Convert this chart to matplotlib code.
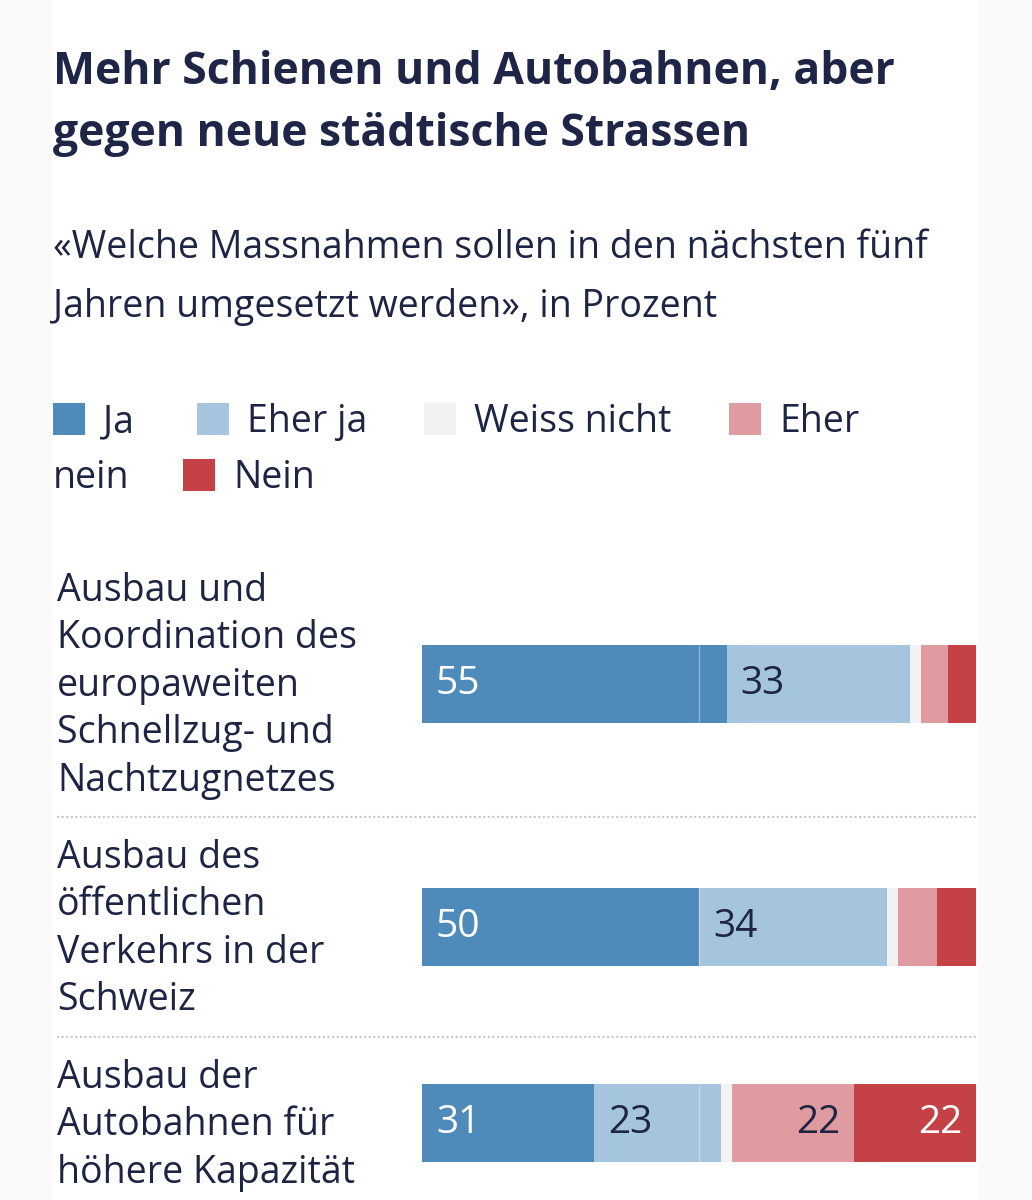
import matplotlib
matplotlib.use('Agg')
import matplotlib.pyplot as plt
from matplotlib.patches import Rectangle

# ---------------- data ----------------
categories = [
    "Ausbau und\nKoordination des\neuropaweiten\nSchnellzug- und\nNachtzugnetzes",
    "Ausbau des\nöffentlichen\nVerkehrs in der\nSchweiz",
    "Ausbau der\nAutobahnen für\nhöhere Kapazität",
]
series = ["Ja", "Eher ja", "Weiss nicht", "Eher nein", "Nein"]
ja = [55, 50, 31]
eher_ja = [33, 34, 23]
weiss_nicht = [2, 2, 2]
eher_nein = [5, 7, 22]
nein = [5, 7, 22]

title_lines = ["Mehr Schienen und Autobahnen, aber", "gegen neue städtische Strassen"]
subtitle_lines = ["«Welche Massnahmen sollen in den nächsten fünf",
                  "Jahren umgesetzt werden», in Prozent"]

# ---------------- style ----------------
colors = ['#4f8bba', '#a5c4dd', '#f2f2f2', '#e09ba0', '#c44146']
label_colors = ['white', '#1d2444', '#1d2444', '#1d2444', 'white']
text_col = '#1d2444'
body_font = 'Open Sans'
body_size = 27
W, H = 1032, 1200

fig = plt.figure(figsize=(W / 100, H / 100), dpi=100, facecolor='#fafafa')
bg = fig.add_axes([0, 0, 1, 1])
bg.set_xlim(0, W)
bg.set_ylim(H, 0)
bg.axis('off')
bg.add_patch(Rectangle((52, 0), 926, H, facecolor='white', edgecolor='none', zorder=0))

# title
for i, line in enumerate(title_lines):
    bg.text(53, 84 + i * 62, line, fontsize=32, fontweight='bold', family=body_font,
            color='#1f2547', va='baseline', ha='left')
# subtitle
for i, line in enumerate(subtitle_lines):
    bg.text(53, 258 + i * 59, line, fontsize=body_size, family=body_font,
            color=text_col, va='baseline', ha='left')

# legend (inline, wrapping like the original)
legend_items = [
    (53, 432, 'Ja', 0),
    (197, 432, 'Eher ja', 1),
    (424, 432, 'Weiss nicht', 2),
    (729, 432, 'Eher', 3),
    (183, 488, 'Nein', 4),
]
for x, yb, txt, ci in legend_items:
    bg.add_patch(Rectangle((x, yb - 29), 32, 32, facecolor=colors[ci], edgecolor='none'))
    bg.text(x + 50, yb, txt, fontsize=body_size, family=body_font, color=text_col,
            va='baseline', ha='left')
bg.text(53, 488, 'nein', fontsize=body_size, family=body_font, color=text_col,
        va='baseline', ha='left')

# ---------------- bars ----------------
bar_left, bar_right = 422, 976
ax = fig.add_axes([bar_left / W, 0, (bar_right - bar_left) / W, 1])
ax.set_xlim(0, 100)
ax.set_ylim(H, 0)
ax.axis('off')
ax.patch.set_alpha(0)

y_centers = [684, 927, 1123]
bar_h = 78
line_pitch = 47.5
data = [ja, eher_ja, weiss_nicht, eher_nein, nein]

for r, cat in enumerate(categories):
    yc = y_centers[r]
    left = 0
    for s in range(len(series)):
        v = data[s][r]
        ax.barh(yc, v, left=left, height=bar_h, color=colors[s], edgecolor='none', zorder=2)
        if v >= 10:
            if s in (0, 1):
                ax.annotate(str(v), xy=(left, yc), xytext=(14, 0), textcoords='offset pixels',
                            ha='left', va='center', fontsize=28, family=body_font,
                            color=label_colors[s], zorder=4)
            else:
                ax.annotate(str(v), xy=(left + v, yc), xytext=(-14, 0), textcoords='offset pixels',
                            ha='right', va='center', fontsize=28, family=body_font,
                            color=label_colors[s], zorder=4)
        left += v
    # faint 50% guide
    ax.vlines(50, yc - bar_h / 2, yc + bar_h / 2, color='white', alpha=0.35, lw=1, zorder=3)

    # category label
    lines = cat.split('\n')
    n = len(lines)
    for i, line in enumerate(lines):
        yb = yc + (i - (n - 1) / 2) * line_pitch + 12
        bg.text(57, yb, line, fontsize=body_size, family=body_font, color=text_col,
                va='baseline', ha='left')

# dotted separators
for ys in [817, 1037]:
    bg.plot([57, 976], [ys, ys], color='#c9c9c9', lw=1.5, linestyle=(0, (1, 1.2)), zorder=1)

fig.savefig('out.png', dpi=100, facecolor=fig.get_facecolor())
